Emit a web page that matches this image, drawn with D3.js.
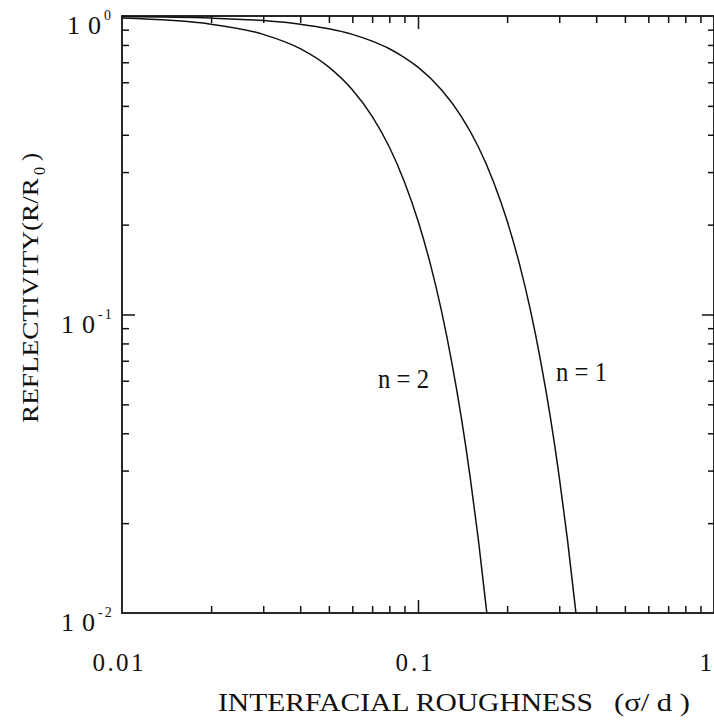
<!DOCTYPE html>
<html>
<head>
<meta charset="utf-8">
<script src="https://cdn.jsdelivr.net/npm/d3@7"></script>
<style>
  body { margin: 0; background: #fff; }
  text { font-family: "Liberation Serif", "Times New Roman", serif; fill: #111; }
</style>
</head>
<body>
<svg id="chart" width="714" height="724"></svg>
<script>
// Roughness sigma/d and relative reflectivity R/R0 for the first-order peak (n = 1)
const roughnessN1 = [0.01, 0.02, 0.03, 0.04, 0.05, 0.06, 0.07, 0.08, 0.09, 0.10,
                     0.12, 0.14, 0.16, 0.18, 0.20, 0.22, 0.24, 0.26, 0.28, 0.30,
                     0.32, 0.34, 0.3416];
const reflectN1 = [0.996, 0.984, 0.965, 0.939, 0.906, 0.868, 0.824, 0.777, 0.726, 0.674,
                   0.566, 0.461, 0.364, 0.278, 0.206, 0.148, 0.103, 0.0693, 0.0453, 0.0286,
                   0.01755, 0.01043, 0.0100];

// Second-order peak (n = 2)
const roughnessN2 = [0.01, 0.02, 0.03, 0.04, 0.05, 0.06, 0.07, 0.08, 0.09, 0.10,
                     0.11, 0.12, 0.13, 0.14, 0.15, 0.16, 0.17, 0.1708];
const reflectN2 = [0.984, 0.939, 0.868, 0.777, 0.674, 0.566, 0.461, 0.364, 0.278, 0.206,
                   0.148, 0.103, 0.0693, 0.0453, 0.0286, 0.01755, 0.01043, 0.0100];

const seriesNames = ["n=1", "n=2"];
const xTickLabels = ["0.01", "0.1", "1"];
const xTickValues = [0.01, 0.1, 1];
const yTickExponents = ["0", "-1", "-2"];
const yTickValues = [1, 0.1, 0.01];

const svg = d3.select("#chart");
const L = 122, R = 714, T = 16, B = 613;

const x = d3.scaleLog().domain([0.01, 1]).range([L, R]);
const y = d3.scaleLog().domain([0.01, 1]).range([B, T]);

// minor tick positions 2..9 within each decade
const minors = [];
[0.01, 0.1].forEach(d => { for (let k = 2; k <= 9; k++) minors.push(+(k * d).toPrecision(3)); });

function styleAxis(g) {
  g.select(".domain").remove();
  g.selectAll("line").attr("stroke", "#111").attr("stroke-width", 1.5);
}

// Bottom
svg.append("g").attr("transform", `translate(0,${B})`)
  .call(d3.axisBottom(x).tickValues(minors).tickSize(-7).tickFormat("")).call(styleAxis);
svg.append("g").attr("transform", `translate(0,${B})`)
  .call(d3.axisBottom(x).tickValues([0.1]).tickSize(-13).tickFormat("")).call(styleAxis);
// Top
svg.append("g").attr("transform", `translate(0,${T})`)
  .call(d3.axisTop(x).tickValues(minors).tickSize(-7).tickFormat("")).call(styleAxis);
svg.append("g").attr("transform", `translate(0,${T})`)
  .call(d3.axisTop(x).tickValues([0.1]).tickSize(-13).tickFormat("")).call(styleAxis);
// Left
svg.append("g").attr("transform", `translate(${L},0)`)
  .call(d3.axisLeft(y).tickValues(minors).tickSize(-7).tickFormat("")).call(styleAxis);
svg.append("g").attr("transform", `translate(${L},0)`)
  .call(d3.axisLeft(y).tickValues([0.1]).tickSize(-13).tickFormat("")).call(styleAxis);
// Right
svg.append("g").attr("transform", `translate(${R},0)`)
  .call(d3.axisRight(y).tickValues(minors).tickSize(-6).tickFormat("")).call(styleAxis);
svg.append("g").attr("transform", `translate(${R},0)`)
  .call(d3.axisRight(y).tickValues([0.1]).tickSize(-12).tickFormat("")).call(styleAxis);

// Frame
svg.append("rect").attr("x", L).attr("y", T).attr("width", R - L).attr("height", B - T)
  .attr("fill", "none").attr("stroke", "#111").attr("stroke-width", 1.8);

// Curves
svg.append("clipPath").attr("id", "plot").append("rect")
  .attr("x", L).attr("y", T - 2).attr("width", R - L).attr("height", B - T + 2);

const line = d3.line().x(d => x(d[0])).y(d => y(d[1])).curve(d3.curveMonotoneX);
const curves = [
  d3.zip(roughnessN1, reflectN1),
  d3.zip(roughnessN2, reflectN2)
];
svg.append("g").attr("clip-path", "url(#plot)")
  .selectAll("path").data(curves).join("path")
  .attr("d", line).attr("fill", "none").attr("stroke", "#111").attr("stroke-width", 1.5);

// Curve labels
const labelPos = [{ x: 556, y: 381 }, { x: 378, y: 388 }];
seriesNames.forEach((s, i) => {
  svg.append("text").attr("x", labelPos[i].x).attr("y", labelPos[i].y)
    .attr("font-size", 28).attr("textLength", 51).attr("lengthAdjust", "spacingAndGlyphs")
    .text(s.replace("=", " = "));
});

// X tick labels
const xLabelLen = [51, 37, 6];
xTickValues.forEach((v, i) => {
  const last = i === xTickValues.length - 1;
  svg.append("text").attr("x", last ? 712 : x(v) - 4).attr("y", 671)
    .attr("text-anchor", last ? "end" : "middle").attr("font-size", 25)
    .attr("textLength", xLabelLen[i]).attr("lengthAdjust", "spacing")
    .text(xTickLabels[i]);
});

// Y tick labels as 1 0 with superscript exponents
yTickValues.forEach((v, i) => {
  const yy = y(v);
  const shift = yTickExponents[i].length === 1 ? 6 : 0;
  svg.append("text").attr("x", 61 + shift).attr("y", yy + 18).attr("font-size", 26).text("1");
  svg.append("text").attr("x", 82 + shift).attr("y", yy + 18).attr("font-size", 26).text("0");
  svg.append("text").attr("x", 98 + shift).attr("y", yy + 4).attr("font-size", 14)
    .attr("letter-spacing", 2).text(yTickExponents[i]);
});

// Axis titles
svg.append("text").attr("x", 218).attr("y", 711).attr("font-size", 26)
  .attr("textLength", 375).attr("lengthAdjust", "spacingAndGlyphs")
  .text("INTERFACIAL ROUGHNESS");
svg.append("text").attr("x", 614).attr("y", 711).attr("font-size", 26)
  .attr("textLength", 76).attr("lengthAdjust", "spacingAndGlyphs")
  .text("(\u03C3/ d )");

const yTitle = svg.append("g").attr("transform", "translate(38,423) rotate(-90)");
yTitle.append("text").attr("x", 0).attr("y", 0).attr("font-size", 24)
  .attr("textLength", 245).attr("lengthAdjust", "spacingAndGlyphs")
  .text("REFLECTIVITY(R/R");
yTitle.append("text").attr("x", 248).attr("y", 7).attr("font-size", 16).text("0");
yTitle.append("text").attr("x", 262).attr("y", 0).attr("font-size", 24).text(")");
</script>
</body>
</html>
